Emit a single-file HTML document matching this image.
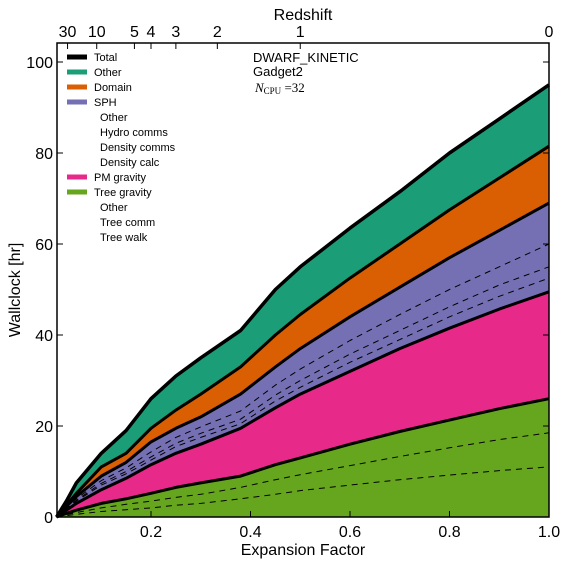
<!DOCTYPE html>
<html><head><meta charset="utf-8"><style>
body{margin:0;background:#fff}
svg{display:block;font-family:"Liberation Sans","DejaVu Sans",sans-serif}
</style></head><body>
<svg id="chart" width="567" height="564" viewBox="0 0 567 564" xmlns="http://www.w3.org/2000/svg">
<g id="layers"></g>
<g id="axes"></g>
<g id="legend"></g>
<text x="253" y="62" font-size="13">DWARF_KINETIC</text>
<text x="253" y="76" font-size="13">Gadget2</text>
<text x="255" y="92" font-size="13" font-family="Liberation Serif,serif" font-style="italic">N<tspan font-size="9" font-style="normal" dy="2">CPU</tspan><tspan dy="-2" font-style="normal"> =32</tspan></text>
<text x="303" y="555" font-size="16" text-anchor="middle">Expansion Factor</text>
<text x="303" y="20" font-size="16" text-anchor="middle">Redshift</text>
<text transform="translate(20,290) rotate(-90)" font-size="16" text-anchor="middle">Wallclock [hr]</text>
</svg>
<script>
const aVals=[0.01,0.03,0.05,0.1,0.15,0.2,0.25,0.3,0.38,0.45,0.5,0.6,0.7,0.8,0.9,1.0];
const treeWalk=[0,0.3,0.6,1.2,1.6,2.0,2.6,3.0,4.0,5.0,5.8,7.0,8.2,9.2,10.2,11];
const treeComm=[0,0.5,1.0,2.0,2.8,3.5,4.3,5.0,6.5,8.2,9.3,11.3,13.3,15.2,17.0,18.5];
const treeTotal=[0,0.8,1.5,3.0,4.0,5.2,6.5,7.5,9.0,11.5,13,16,18.8,21.3,23.8,26];
const pmTop=[0,1.5,3.0,6.0,8.5,11.5,14,16,19.5,24,27,32,37,41.5,45.7,49.5];
const densCalc=[0,1.8,3.5,7.0,9.5,12.5,15.5,17.5,20.5,25.5,28.5,34,39,44,48.5,52.5];
const densComms=[0,1.9,3.7,7.4,10,13.2,16.2,18.4,21.5,26.8,30,35.8,41,46.2,51,55];
const hydroComms=[0,2.1,4.0,8.0,10.8,14.3,17.5,19.8,23.3,29,32.5,38.8,44.5,50,55,60];
const sphTop=[0,2.3,4.5,9.0,12,16.5,19.5,22,27,33,37,44,50.5,57,63,69];
const domainTop=[0,2.6,5.2,11,14,19.5,23.5,27,33,40,44.5,52.5,60,67.5,74.5,81.5];
const totalTop=[0,3.5,7.5,14,19,26,31,35,41,50,55,63.5,71.5,80,87.5,95];
const yTicks=[0,20,40,60,80,100];
const xTicks=[0.2,0.4,0.6,0.8,1.0];
const zTicks=[30,10,5,4,3,2,1,0];

const X0=57,X1=549,Y0=517,Y1=43;
const xs=a=>51.5+a*497.5;
const ys=v=>517-v*4.55;
const NS="http://www.w3.org/2000/svg";
function mk(tag,attrs,parent){const e=document.createElementNS(NS,tag);for(const k in attrs)e.setAttribute(k,attrs[k]);parent.appendChild(e);return e;}
const layers=document.getElementById('layers');
function pts(arr){return arr.map((v,i)=>xs(aVals[i]).toFixed(1)+','+ys(v).toFixed(1));}
function area(lo,hi,color,name){
  const top=pts(hi);const bot=lo?pts(lo).reverse():[xs(aVals[aVals.length-1])+','+ys(0),xs(aVals[0])+','+ys(0)];
  const p=mk('polygon',{points:top.concat(bot).join(' '),fill:color},layers);
  
  
}
area(null,treeTotal,'#66a61e','area-tree-gravity');
area(treeTotal,pmTop,'#e7298a','area-pm-gravity');
area(pmTop,sphTop,'#7570b3','area-sph');
area(sphTop,domainTop,'#d95f02','area-domain');
area(domainTop,totalTop,'#1b9e77','area-other');
function line(arr,dash,w,name){
  const l=mk('polyline',{points:pts(arr).join(' '),fill:'none',stroke:'#000','stroke-width':w,'stroke-linejoin':'round'},layers);
  if(dash)l.setAttribute('stroke-dasharray','6,5');
  
  
}
line(treeWalk,true,1,'line-tree-walk');
line(treeComm,true,1,'line-tree-comm');
line(densCalc,true,1,'line-density-calc');
line(densComms,true,1,'line-density-comms');
line(hydroComms,true,1,'line-hydro-comms');
line(treeTotal,false,3,'line-tree-gravity');
line(pmTop,false,3,'line-pm-gravity');
line(sphTop,false,3,'line-sph');
line(domainTop,false,3,'line-domain');
line(totalTop,false,3.5,'line-total');

const axes=document.getElementById('axes');
const fr=mk('rect',{x:X0,y:Y1,width:X1-X0,height:Y0-Y1,fill:'none',stroke:'#000','stroke-width':1.5},axes);


yTicks.forEach(v=>{
  const y=ys(v);
  mk('line',{x1:X0,x2:X0+6,y1:y,y2:y,stroke:'#000'},axes);
  mk('line',{x1:X1,x2:X1-6,y1:y,y2:y,stroke:'#000'},axes);
  const t=mk('text',{x:X0-4,y:y+6,'font-size':16,'text-anchor':'end'},axes);t.textContent=v;
  
  
});
xTicks.forEach(v=>{
  const x=xs(v);
  mk('line',{x1:x,x2:x,y1:Y0,y2:Y0-6,stroke:'#000'},axes);
  const t=mk('text',{x:x,y:Y0+20,'font-size':16,'text-anchor':'middle'},axes);t.textContent=v.toFixed(1);
  
  
});
zTicks.forEach(z=>{
  const x=xs(1/(1+z));
  mk('line',{x1:x,x2:x,y1:Y1,y2:Y1+6,stroke:'#000'},axes);
  const t=mk('text',{x:x,y:Y1-6,'font-size':16,'text-anchor':'middle'},axes);t.textContent=z;
  
  
});

const legendItems=[['Total','#000',0],['Other','#1b9e77',0],['Domain','#d95f02',0],['SPH','#7570b3',0],['Other',null,1],['Hydro comms',null,1],['Density comms',null,1],['Density calc',null,1],['PM gravity','#e7298a',0],['Tree gravity','#66a61e',0],['Other',null,1],['Tree comm',null,1],['Tree walk',null,1]];
const lg=document.getElementById('legend');
legendItems.forEach((it,i)=>{
  const y=57+i*15;
  const g=mk('g',{},lg);
  
  
  if(it[1])mk('rect',{x:67,y:y-2.5,width:20,height:5,fill:it[1]},g);
  const t=mk('text',{x:it[2]?100:94,y:y+4,'font-size':11},g);t.textContent=it[0];
});
</script>
</body></html>
